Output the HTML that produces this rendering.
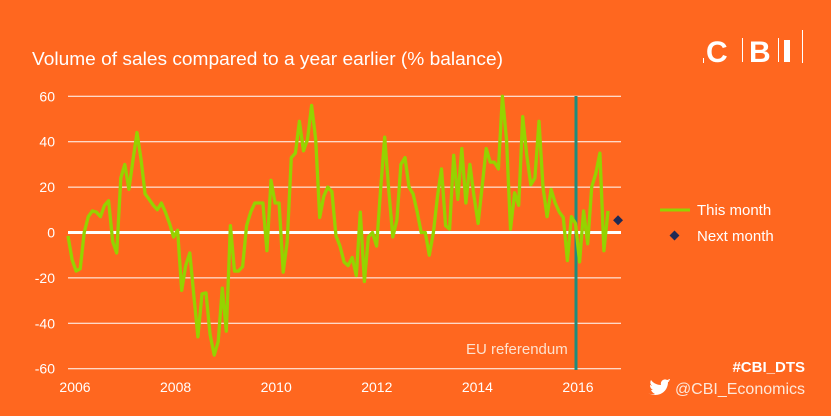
<!DOCTYPE html>
<html><head><meta charset="utf-8"><style>
html,body{margin:0;padding:0;background:#FF671F;}
svg{display:block;font-family:"Liberation Sans",Arial,sans-serif;}
</style></head><body>
<svg id="chart" width="831" height="416" viewBox="0 0 831 416">
<rect width="831" height="416" fill="#FF671F"/>
<text x="32" y="65" fill="#fff" font-size="18" textLength="471" lengthAdjust="spacingAndGlyphs">Volume of sales compared to a year earlier (% balance)</text>
<g fill="#fff">
<rect x="703" y="58" width="1" height="5"/>
<text x="706" y="62" font-size="30" font-weight="bold">C</text>
<rect x="742" y="38" width="1" height="24"/>
<text x="749" y="62" font-size="30" font-weight="bold">B</text>
<rect x="778" y="38" width="1" height="24"/>
<rect x="784" y="40" width="6" height="22"/>
<rect x="802" y="30" width="1" height="33"/>
</g>
<g id="grid"></g>
<g id="xlabels"></g>
<g id="ylabels"></g>
<line x1="576" y1="96" x2="576" y2="370" stroke="#1E8C7E" stroke-width="3"/>
<text x="466" y="354" fill="#fde2cf" font-size="15">EU referendum</text>
<path id="series" fill="none" stroke="#95D300" stroke-width="3.3" stroke-linejoin="round"/>
<g id="nextmonth"></g>
<g>
<line x1="660" y1="210" x2="690" y2="210" stroke="#95D300" stroke-width="3"/>
<text x="697" y="215" fill="#fff" font-size="15">This month</text>
<rect x="671" y="232" width="7" height="7" fill="#1F2A55" transform="rotate(45 674.5 235.5)"/>
<text x="697" y="241" fill="#fff" font-size="15">Next month</text>
</g>
<text x="805" y="372" fill="#fff" font-size="15" font-weight="bold" text-anchor="end">#CBI_DTS</text>
<path d="M648 393 c2 1 5 2 7 1 c-2 -1 -3 -2 -4 -4 c1 0 2 0 2 0 c-2 -1 -3 -3 -3 -5 c1 0 1 1 2 1 c-2 -2 -2 -4 -1 -6 c2 3 6 5 10 5 c-1 -4 3 -7 6 -5 c1 0 2 -1 3 -1 c0 1 -1 2 -2 2 c1 0 2 0 2 -1 c-1 1 -1 2 -2 2 c0 7 -5 13 -13 13 c-3 0 -5 -1 -7 -2z" fill="#fff"/>
<text x="805" y="394" fill="#fde8da" font-size="16" text-anchor="end">@CBI_Economics</text>
</svg>
<script>
const yTicks=[60,40,20,0,-20,-40,-60];
const xTickLabels=["2006","2008","2010","2012","2014","2016"];
const thisMonth=[-1.5,-12,-17,-16,0,7,9.5,9,7,12,14,-4,-9,24,30,19,32,44,32,17,14.6,12,10,13,9,4,-2,1,-25.5,-14.6,-9,-28,-46,-27,-26.6,-45,-54,-48,-24.5,-43.5,3,-17,-17,-15,3,9,13,
13,13,-8,23,13,13,-17.5,-4,33,35,49,36,41,56,41,6.6,16,20,18,-1.5,-6,-13,-14.6,-11,-19,9,-21.6,-2,0,-6,19,42,19,-2,5.5,30,33,20,17,9,0,0,-10,0,16,28,
3,1.5,34,14.6,37,13,30,16,4,20,37,31,31,28,60,41,1.5,17.5,12,51,34,21,24,49,20,7,19,13,9,6.6,-12.4,7,4,-13,9.5,-5,20,26,35,-8,9.5];
const nextMonth=[5.4];
const nextMonthIndex=[134];
const NS="http://www.w3.org/2000/svg";
const x0=68,dx=4.06;
function xs(i){return x0+i*dx;}
function ys(v){return 232.5-v*2.27;}
const grid=document.getElementById('grid'),yl=document.getElementById('ylabels'),xl=document.getElementById('xlabels');
yTicks.forEach(v=>{
 const l=document.createElementNS(NS,'line');
 l.setAttribute('x1',68);l.setAttribute('x2',621);
 l.setAttribute('y1',ys(v));l.setAttribute('y2',ys(v));
 l.setAttribute('stroke','#fff');l.setAttribute('stroke-width',v===0?3:1);
 
 
 grid.appendChild(l);
 const t=document.createElementNS(NS,'text');
 t.setAttribute('x',55);t.setAttribute('y',ys(v)+5);t.setAttribute('text-anchor','end');
 t.setAttribute('fill','#fff');t.setAttribute('font-size','14');t.textContent=v;
 
 
 yl.appendChild(t);
});
xTickLabels.forEach((s,k)=>{
 const t=document.createElementNS(NS,'text');
 t.setAttribute('x',75+k*100.6);t.setAttribute('y',392);t.setAttribute('text-anchor','middle');
 t.setAttribute('fill','#fff');t.setAttribute('font-size','14');t.textContent=s;
 
 
 xl.appendChild(t);
});
document.getElementById('series').setAttribute('d',thisMonth.map((v,i)=>(i?'L':'M')+xs(i).toFixed(1)+' '+ys(v).toFixed(1)).join(' '));
const nm=document.getElementById('nextmonth');
nextMonth.forEach((v,k)=>{
 const cx=xs(nextMonthIndex[k])+6,cy=ys(v);
 const r=document.createElementNS(NS,'rect');
 r.setAttribute('x',cx-3.5);r.setAttribute('y',cy-3.5);r.setAttribute('width',7);r.setAttribute('height',7);
 r.setAttribute('fill','#1F2A55');r.setAttribute('transform','rotate(45 '+cx+' '+cy+')');
 
 
 nm.appendChild(r);
});
</script>
</body></html>
